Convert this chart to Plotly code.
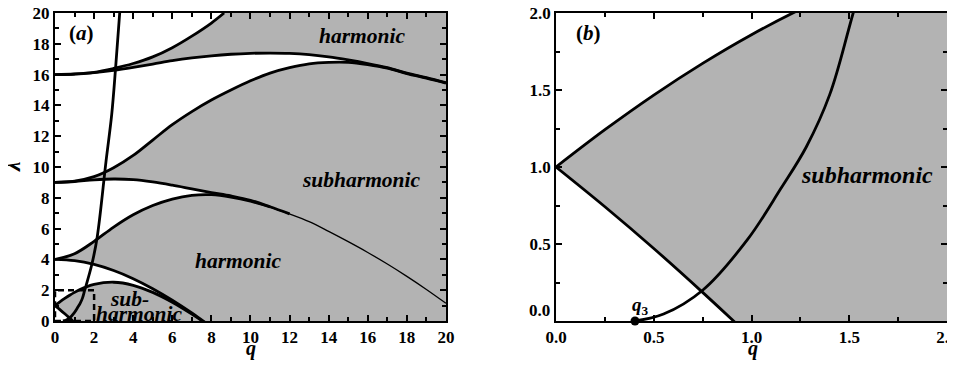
import plotly.graph_objects as go

# ---------------- data ----------------
# lower boundary of tongue from lambda = 1
Q_B1 = [0, 0.25, 0.5, 0.75, 1.0, 1.25]
B1 = [1.0, 0.742, 0.471, 0.186, -0.110, -0.417]
# upper boundary of tongue from lambda = 1
Q_A1 = [0, 0.25, 0.5, 0.75, 1.0, 1.25, 1.5, 2, 3, 4, 5, 6, 7, 7.5, 8]
A1 = [1.0, 1.242, 1.467, 1.673, 1.859, 2.024, 2.165, 2.379, 2.517, 2.32, 1.858, 1.22, 0.45, 0.03, -0.42]
# lower boundary of tongue from lambda = 4
Q_B2 = [0, 1, 2, 3, 4, 5, 6, 7, 7.5, 8]
B2 = [4.0, 3.917, 3.672, 3.277, 2.75, 2.10, 1.35, 0.52, 0.07, -0.38]
# upper boundary of tongue from lambda = 4
Q_A2 = [0, 1, 2, 3, 4, 5, 6, 7, 8, 9, 10, 11, 12, 13, 14, 15, 16, 17, 18, 19, 20]
A2 = [4.0, 4.37, 5.17, 6.1, 6.9, 7.5, 7.92, 8.16, 8.2, 8.05, 7.78, 7.4, 6.95,
      6.45, 5.82, 5.15, 4.45, 3.7, 2.9, 2.05, 1.15]
# lower boundary of tongue from lambda = 9
Q_B3 = [0, 1, 2, 3, 4, 5, 6, 7, 8, 9, 10, 11, 12]
B3 = [9.0, 9.06, 9.17, 9.22, 9.18, 9.03, 8.82, 8.58, 8.34, 8.12, 7.84, 7.42, 6.96]
# upper boundary of tongue from lambda = 9
Q_A3 = [0, 1, 2, 3, 4, 5, 6, 7, 8, 9, 10, 11, 12, 13, 14, 15, 16, 17, 18, 19, 20]
A3 = [9.0, 9.08, 9.37, 9.95, 10.75, 11.75, 12.75, 13.6, 14.35, 15.0, 15.6, 16.1,
      16.45, 16.7, 16.8, 16.8, 16.65, 16.42, 16.07, 15.77, 15.45]
# lower boundary of tongue from lambda = 16
Q_B4 = [0, 1, 2, 3, 4, 5, 6, 7, 8, 9, 10, 11, 12, 13, 14, 15, 16, 17, 18, 19, 20]
B4 = [16.0, 16.03, 16.13, 16.28, 16.47, 16.68, 16.9, 17.08, 17.22, 17.32, 17.38, 17.4,
      17.38, 17.3, 17.15, 16.95, 16.72, 16.45, 16.1, 15.8, 15.47]
# upper boundary of tongue from lambda = 16
Q_A4 = [0, 1, 2, 3, 4, 5, 6, 7, 8, 8.65]
A4 = [16.0, 16.04, 16.15, 16.4, 16.72, 17.15, 17.75, 18.5, 19.35, 20.0]
# steep curve starting at q3
Q_S = [0.404, 0.55, 0.75, 0.98, 1.15, 1.28, 1.40, 1.52, 1.88, 2.16, 2.61, 2.90, 3.10, 3.31]
S = [0.0, 0.045, 0.20, 0.53, 0.86, 1.13, 1.47, 2.0, 3.65, 5.46, 10.37, 13.4, 16.44, 20.0]

RANGE_A = [0, 20]
RANGE_B = [0, 2]
XTICK_A = [0, 2, 4, 6, 8, 10, 12, 14, 16, 18, 20]
YTICK_A = [0, 2, 4, 6, 8, 10, 12, 14, 16, 18, 20]
TICK_B = [0.0, 0.5, 1.0, 1.5, 2.0]
TICK_B_TEXT = ["0.0", "0.5", "1.0", "1.5", "2.0"]

GRAY = "#b3b3b3"
FONT = "Liberation Serif"
LW = 2.8

fig = go.Figure()


def line(x, y, xa, ya, width=LW, fill=None, fillcolor=None, lw=None):
    return go.Scatter(
        x=x, y=y, xaxis=xa, yaxis=ya, mode="lines",
        line=dict(color="black", width=width if lw is None else lw, shape="spline"),
        fill=fill, fillcolor=fillcolor, hoverinfo="skip", showlegend=False,
    )


# ---------- panel (a): white stable regions over gray background ----------
fig.add_trace(line([Q_A4[0], Q_A4[-1]], [RANGE_A[1], RANGE_A[1]], "x", "y", lw=0))
fig.add_trace(line(Q_A4, A4, "x", "y", lw=0, fill="tonexty", fillcolor="white"))
fig.add_trace(line(Q_B4, B4, "x", "y", lw=0))
fig.add_trace(line(Q_A3, A3, "x", "y", lw=0, fill="tonexty", fillcolor="white"))
fig.add_trace(line(Q_B3, B3, "x", "y", lw=0))
n3 = len(Q_B3)
fig.add_trace(line(Q_A2[:n3], A2[:n3], "x", "y", lw=0, fill="tonexty", fillcolor="white"))
fig.add_trace(line(Q_B2, B2, "x", "y", lw=0))
fig.add_trace(line(Q_A1, A1, "x", "y", lw=0, fill="tonexty", fillcolor="white"))
fig.add_trace(line(Q_B1, B1, "x", "y", lw=0, fill="tozeroy", fillcolor="white"))

# lines of panel (a)
fig.add_trace(line(Q_B1, B1, "x", "y"))
fig.add_trace(line(Q_A1, A1, "x", "y"))
fig.add_trace(line(Q_B2, B2, "x", "y"))
fig.add_trace(line(Q_A2[:n3 - 1], A2[:n3 - 1], "x", "y"))
fig.add_trace(line(Q_A2[n3 - 2:], A2[n3 - 2:], "x", "y", width=1.3))
fig.add_trace(line(Q_B3, B3, "x", "y"))
fig.add_trace(line(Q_A3, A3, "x", "y"))
fig.add_trace(line(Q_B4, B4, "x", "y"))
fig.add_trace(line(Q_A4, A4, "x", "y"))
fig.add_trace(line(Q_S, S, "x", "y"))

# ---------- panel (b) ----------
fig.add_trace(line(Q_B2, B2, "x2", "y2", lw=0))
fig.add_trace(line(Q_A1, A1, "x2", "y2", lw=0, fill="tonexty", fillcolor="white"))
fig.add_trace(line(Q_B1, B1, "x2", "y2", lw=0, fill="tozeroy", fillcolor="white"))
fig.add_trace(line(Q_B1, B1, "x2", "y2"))
fig.add_trace(line(Q_A1, A1, "x2", "y2"))
fig.add_trace(line(Q_S, S, "x2", "y2"))
fig.add_trace(go.Scatter(x=[Q_S[0]], y=[S[0]], xaxis="x2", yaxis="y2", mode="markers",
                         marker=dict(color="black", size=9), cliponaxis=False,
                         hoverinfo="skip", showlegend=False))

# dashed box in (a) showing the range of (b)
fig.add_shape(type="rect", xref="x", yref="y", x0=RANGE_B[0], x1=RANGE_B[1],
              y0=RANGE_B[0], y1=RANGE_B[1],
              line=dict(color="black", width=2.5, dash="6px,4px"))

tickfont = dict(family=FONT, size=17, color="black", weight="bold")
common = dict(showline=True, linecolor="black", linewidth=2, mirror="allticks",
              ticks="inside", ticklen=6, tickwidth=1.5, tickcolor="black",
              showgrid=False, zeroline=False, tickfont=tickfont, automargin=False,
              ticklabeloverflow="allow")

fig.update_layout(
    template="none",
    width=947, height=366,
    margin=dict(l=47, r=8, t=5, b=53),
    paper_bgcolor="white", plot_bgcolor=GRAY,
    showlegend=False,
    xaxis=dict(domain=[0, 0.4383], range=RANGE_A, anchor="y", tickvals=XTICK_A,
               minor=dict(ticks="inside", dtick=1, ticklen=4, tickwidth=1.5, tickcolor="black"),
               **common),
    yaxis=dict(domain=[0, 1], range=RANGE_A, anchor="x", tickvals=YTICK_A,
               minor=dict(ticks="inside", dtick=1, ticklen=4, tickwidth=1.5, tickcolor="black"),
               **common),
    xaxis2=dict(domain=[0.5617, 1], range=RANGE_B, anchor="y2", tickvals=TICK_B,
                ticktext=TICK_B_TEXT,
                minor=dict(ticks="inside", dtick=0.25, ticklen=4, tickwidth=1.5, tickcolor="black"),
                **common),
    yaxis2=dict(domain=[0, 1], range=RANGE_B, anchor="x2", tickvals=TICK_B,
                ticktext=[""] + TICK_B_TEXT[1:],
                minor=dict(ticks="inside", dtick=0.25, ticklen=4, tickwidth=1.5, tickcolor="black"),
                **common),
)

lab = dict(family=FONT, color="black", weight="bold", style="italic")
annos = [
    dict(x=15.7, y=18.52, xref="x", yref="y", text="harmonic", font=dict(size=21.5, **lab)),
    dict(x=15.7, y=9.15, xref="x", yref="y", text="subharmonic", font=dict(size=21.5, **lab)),
    dict(x=9.38, y=3.88, xref="x", yref="y", text="harmonic", font=dict(size=21.5, **lab)),
    dict(x=3.79, y=1.46, xref="x", yref="y", text="sub-", font=dict(size=21.5, **lab)),
    dict(x=4.30, y=0.48, xref="x", yref="y", text="harmonic", font=dict(size=21.5, **lab)),
    dict(x=1.38, y=18.72, xref="x", yref="y", text="(<i>a</i>)",
         font=dict(family=FONT, size=21, color="black", weight="bold")),
    dict(x=0.165, y=1.872, xref="x2", yref="y2", text="(<i>b</i>)",
         font=dict(family=FONT, size=21, color="black", weight="bold")),
    dict(x=1.59, y=0.95, xref="x2", yref="y2", text="subharmonic", font=dict(size=24, **lab)),
    dict(x=0.43, y=0.10, xref="x2", yref="y2", text="<i>q</i><sub>3</sub>",
         font=dict(family=FONT, size=19, color="black", weight="bold")),
    # axis titles
    dict(x=0.2197, y=-0.088, xref="paper", yref="paper", text="q", font=dict(size=20, **lab)),
    dict(x=0.7825, y=-0.088, xref="paper", yref="paper", text="q", font=dict(size=20, **lab)),
    dict(x=-0.047, y=0.50, xref="paper", yref="paper", text="λ", textangle=-90,
         font=dict(size=21, **lab)),
    # shifted zero label of panel (b)
    dict(x=0.5569, y=0, xref="paper", yref="y2", text="0.0", xanchor="right",
         yshift=11, font=tickfont),
]
for a in annos:
    a.setdefault("showarrow", False)
    a.setdefault("xanchor", "center")
    a.setdefault("yanchor", "middle")
    fig.add_annotation(**a)

fig.write_html("out.html")
